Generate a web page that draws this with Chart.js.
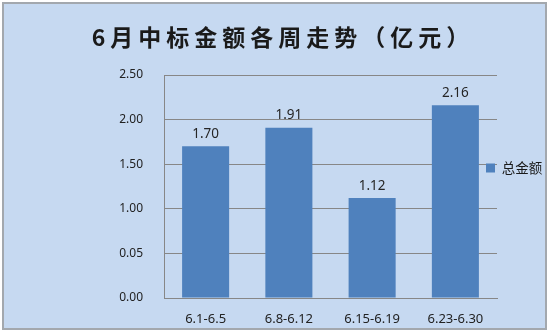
<!DOCTYPE html>
<html>
<head>
<meta charset="utf-8">
<script src="https://cdn.jsdelivr.net/npm/chart.js@4"></script>
<style>
  body { margin: 0; background: #fff; }
  #frame { position: absolute; left: 2px; top: 2px; width: 545px; height: 328px; box-sizing: border-box; border: 2px solid #a3a8ae; background: #c6d9f1; }
  canvas { position: absolute; left: 0; top: 0; }
</style>
</head>
<body>
<div id="frame"></div>
<canvas id="chart" width="550" height="332"></canvas>
<script>
const titleText = "6月中标金额各周走势（亿元）";
const seriesName = "总金额";
const weeks = ["6.1-6.5", "6.8-6.12", "6.15-6.19", "6.23-6.30"];
const totals = [1.70, 1.91, 1.12, 2.16];
// tick text as printed in the original (second label really reads 0.05)
const yTickLabels = ["0.00", "0.05", "1.00", "1.50", "2.00", "2.50"];

const numFont = '"Noto Sans", sans-serif';
const cjkFont = '"Noto Sans CJK SC", sans-serif';

// the title in the picture is widely spaced, chart.js has no option for that
const spacedTitle = {
  id: "spacedTitle",
  afterInit(chart) {
    const block = chart.titleBlock;
    const draw = block.draw;
    block.draw = function () {
      const ctx = this.ctx;
      ctx.save();
      ctx.letterSpacing = "5px";
      ctx.translate(8, 0);
      draw.call(this);
      ctx.restore();
    };
  }
};

// excel puts the legend partly over the plot area, nudge it left after layout
const legendNudge = {
  id: "legendNudge",
  afterLayout(chart) {
    const lg = chart.legend;
    lg.left = 486;
    lg.right = 550;
    lg.width = 64;
    lg.top += 2;
    lg.bottom += 2;
  }
};

const valueLabels = {
  id: "valueLabels",
  afterDatasetsDraw(chart) {
    const ctx = chart.ctx;
    ctx.save();
    ctx.font = "13.5px " + numFont;
    ctx.fillStyle = "#262626";
    ctx.textAlign = "center";
    ctx.textBaseline = "middle";
    chart.getDatasetMeta(0).data.forEach((bar, i) => {
      ctx.fillText(totals[i].toFixed(2), bar.x, bar.y - 12);
    });
    ctx.restore();
  }
};

new Chart(document.getElementById("chart"), {
  type: "bar",
  data: {
    labels: weeks,
    datasets: [{
      label: seriesName,
      data: totals,
      backgroundColor: "#4f81bd",
      borderWidth: 0,
      categoryPercentage: 1,
      barPercentage: 0.565
    }]
  },
  options: {
    responsive: false,
    animation: false,
    layout: { padding: 0 },
    plugins: {
      tooltip: { enabled: false },
      title: {
        display: true,
        text: titleText,
        color: "#1a1a1a",
        font: { family: cjkFont, size: 23, weight: "bold" },
        padding: { top: 23, bottom: 24.4 }
      },
      legend: {
        position: "right",
        maxWidth: 53,
        labels: {
          boxWidth: 9,
          boxHeight: 9,
          padding: 0,
          color: "#1a1a1a",
          font: { family: cjkFont, size: 13.5 }
        }
      }
    },
    scales: {
      x: {
        grid: { display: false, drawTicks: false },
        border: { display: true, color: "#878787", width: 1 },
        ticks: { color: "#222", padding: 13, font: { family: numFont, size: 13 } },
        afterFit(scale) { scale.height = 34; }
      },
      y: {
        min: 0,
        max: 2.5,
        ticks: {
          stepSize: 0.5,
          color: "#222",
          padding: 21,
          font: { family: numFont, size: 12 },
          callback: (value, index) => yTickLabels[index]
        },
        grid: { color: "#878787", lineWidth: 1, drawTicks: false },
        border: { display: true, color: "#878787", width: 1 },
        afterFit(scale) { scale.width = 164; }
      }
    }
  },
  plugins: [spacedTitle, legendNudge, valueLabels]
});
</script>
</body>
</html>
